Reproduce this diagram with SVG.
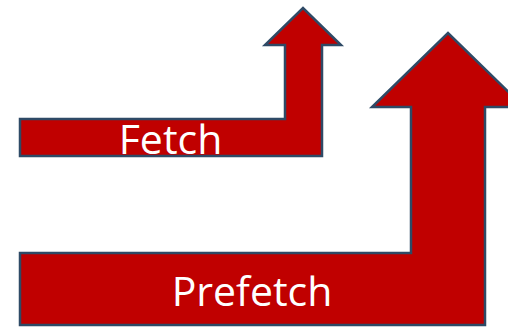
<svg xmlns="http://www.w3.org/2000/svg" width="508" height="327" viewBox="0 0 508 327">
<style>
.arrow{fill:#C00000;stroke:#2E4A66;stroke-width:2.5;stroke-linejoin:miter}
.lbl{fill:#FFFFFF;font-family:"Open Sans","Liberation Sans",sans-serif;font-size:41px;text-anchor:middle}
</style>
<rect width="508" height="327" fill="#FFFFFF"/>
<g id="fetch">
<polygon class="arrow" points="20,119 285,119 285,45 265,45 303,8 341,45 322,45 322,156 20,156"/>
<text class="lbl" x="170.5" y="154">Fetch</text>
</g>
<g id="prefetch">
<polygon class="arrow" points="20,253 411,253 411,107 372,107 448,33 524,107 485,107 485,325 20,325"/>
<text class="lbl" x="252" y="306">Prefetch</text>
</g>
<g id="connectors"></g>
</svg>
